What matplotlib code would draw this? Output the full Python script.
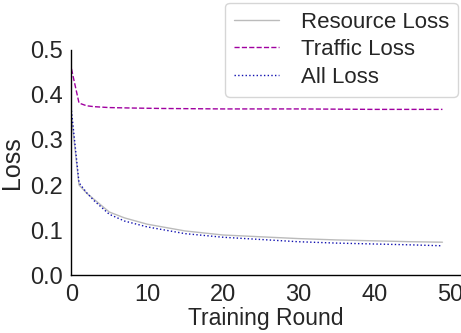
import numpy as np
import matplotlib
matplotlib.use("Agg")
import matplotlib.pyplot as plt
import seaborn as sns

# loss values, one per training round (0..49)
rounds = np.arange(50)

traffic_key_x = [0, 1, 2, 3, 5, 8, 12, 20, 30, 40, 49]
traffic_key_y = [0.458, 0.382, 0.376, 0.374, 0.372, 0.371, 0.370, 0.369, 0.369, 0.368, 0.368]

resource_key_x = [0, 1, 2, 3, 5, 7, 10, 15, 20, 25, 30, 35, 40, 45, 49]
resource_key_y = [0.352, 0.200, 0.182, 0.168, 0.140, 0.127, 0.113, 0.098, 0.089, 0.085, 0.081, 0.078, 0.076, 0.074, 0.073]

all_key_x = [0, 1, 2, 3, 5, 7, 10, 15, 20, 25, 30, 35, 40, 45, 49]
all_key_y = [0.365, 0.205, 0.183, 0.165, 0.135, 0.120, 0.107, 0.092, 0.084, 0.079, 0.074, 0.071, 0.069, 0.067, 0.065]

traffic_loss = np.interp(rounds, traffic_key_x, traffic_key_y)
resource_loss = np.interp(rounds, resource_key_x, resource_key_y)
all_loss = np.interp(rounds, all_key_x, all_key_y)

sns.set_style("white")
plt.rcParams['font.family'] = ['Liberation Sans', 'DejaVu Sans']

fig = plt.figure(figsize=(4.61, 3.33), dpi=100)
ax = fig.add_axes([0.155, 0.174, 0.845, 0.676])

ax.plot(rounds, resource_loss, color='#bbbbbb', lw=1.0, ls='-', label='Resource Loss')
ax.plot(rounds, traffic_loss, color='#a000a0', lw=1.0, ls='--', label='Traffic Loss')
ax.plot(rounds, all_loss, color='#1010b0', lw=1.0, ls=':', label='All Loss')

ax.set_xlim(0, 51.45)
ax.set_ylim(0, 0.5)
ax.set_xticks([0, 10, 20, 30, 40, 50])
ax.set_yticks([0.0, 0.1, 0.2, 0.3, 0.4, 0.5])
ax.tick_params(labelsize=17, pad=3)
ax.set_xlabel("Training Round", fontsize=16.5, labelpad=1)
ax.set_ylabel("Loss", fontsize=18, labelpad=4)

for side in ['top', 'right']:
    ax.spines[side].set_visible(False)
for side in ['left', 'bottom']:
    ax.spines[side].set_color('black')
    ax.spines[side].set_linewidth(1.0)

ax.legend(loc='upper right', bbox_to_anchor=(0.992, 1.21), borderaxespad=0,
          fontsize=16, frameon=True, labelspacing=0.3,
          handlelength=2.0, handletextpad=1.0)

fig.savefig("out.png", dpi=100)
